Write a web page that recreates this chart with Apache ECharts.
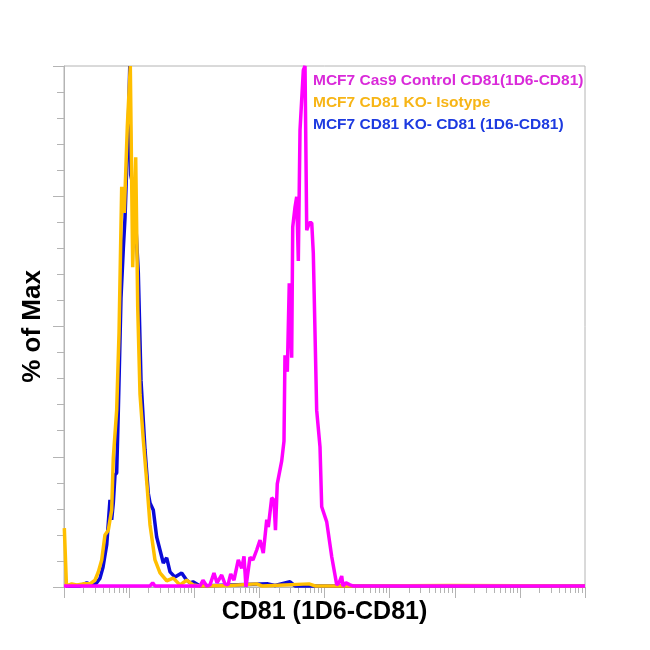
<!DOCTYPE html>
<html>
<head>
<meta charset="utf-8">
<script src="https://cdn.jsdelivr.net/npm/echarts@6/dist/echarts.min.js"></script>
<style>html,body{margin:0;padding:0;background:#fff}#c{width:650px;height:650px}</style>
</head>
<body>
<div id="c"></div>
<script>
// x values are in log10 decades of CD81 fluorescence (0..8), y values are % of Max
const seriesNames = [
  'MCF7 Cas9 Control CD81(1D6-CD81)',
  'MCF7 CD81 KO- Isotype',
  'MCF7 CD81 KO- CD81 (1D6-CD81)'
];
const controlCD81 = [
  [0,0.2],[1.321,0.2],[1.362,0.8],[1.397,0.2],[2.088,0.2],[2.134,1.3],[2.191,0.2],[2.242,0.4],
  [2.303,2.7],[2.349,0.8],[2.421,2.3],[2.472,0.6],[2.518,0.4],[2.560,2.5],[2.610,1.3],[2.676,5.2],
  [2.729,3.6],[2.764,5.9],[2.794,0.0],[2.856,5.7],[2.902,5.2],[2.959,7.1],[3.010,9.0],[3.060,6.5],
  [3.113,12.9],[3.137,11.5],[3.189,17.1],[3.224,16.7],[3.247,10.9],[3.275,19.8],[3.343,24.2],
  [3.378,28.0],[3.393,44.5],[3.429,41.3],[3.459,58.3],[3.496,44.0],[3.512,69.1],[3.547,72.9],
  [3.573,74.9],[3.598,62.6],[3.624,87.7],[3.675,99.2],[3.701,100],[3.727,68.5],[3.767,69.9],
  [3.804,69.9],[3.828,64.1],[3.880,33.9],[3.931,26.9],[3.957,15.4],[4.034,12.5],[4.111,5.8],
  [4.188,0.4],[4.223,0.8],[4.264,2.1],[4.284,0.2],[4.330,0.8],[4.391,0.4],[4.437,0.2],[8,0.2]
];
const koIsotype = [
  [0.005,11.3],[0.038,0.2],[0.118,0.6],[0.195,0.4],[0.296,0.6],[0.399,0.6],[0.476,1.3],[0.527,2.9],
  [0.579,5.2],[0.629,10.0],[0.680,10.9],[0.732,14.8],[0.757,24.8],[0.809,34.0],[0.845,48.8],
  [0.886,76.8],[0.926,71.8],[0.972,88.3],[1.018,100],[1.055,61.4],[1.101,82.5],[1.132,53.7],
  [1.167,37.0],[1.218,28.2],[1.270,20.3],[1.321,11.9],[1.397,5.2],[1.474,2.7],[1.577,1.2],
  [1.678,1.7],[1.781,0.4],[1.884,1.3],[1.981,0.4],[2.088,0.2],[2.549,0.3],[2.959,0.6],[3.04,0.2],
  [3.762,0.6],[3.855,0.2],[4.545,0.2],[5.927,0.3],[8,0.2]
];
const koCD81 = [
  [0.031,0.2],[0.246,0.2],[0.349,0.8],[0.430,0.4],[0.502,0.8],[0.553,1.7],[0.599,3.8],[0.656,8.1],
  [0.706,16.7],[0.732,12.9],[0.757,16.1],[0.783,21.5],[0.809,21.9],[0.834,33.8],[0.875,55.5],
  [0.911,65.0],[0.937,70.9],[0.963,80.6],[0.987,88.3],[1.010,100],[1.024,79.1],[1.075,76.2],
  [1.141,60.3],[1.182,39.7],[1.244,26.3],[1.294,18.0],[1.321,16.1],[1.371,14.8],[1.423,9.6],
  [1.474,7.1],[1.525,4.6],[1.577,5.6],[1.628,2.9],[1.705,1.9],[1.807,2.7],[1.884,1.3],[1.935,0.8],
  [1.981,1.0],[2.088,0.2],[3.132,0.6],[3.240,0.3],[3.332,0.6],[3.470,1.0],[3.547,0.2],[8,0.2]
];
const lineColors = ['#ff00ff', '#ffbf00', '#0a0ad8'];
const textColors = ['#d92ad9', '#f7b516', '#1d3ae0'];
const xMajorTicks = [0,1,2,3,4,5,6,7,8];
const xMinorTicks = [];
xMajorTicks.slice(0, 8).forEach(function (d) {
  for (let k = 2; k <= 9; k++) xMinorTicks.push(d + Math.log10(k));
});
const yMajorTicks = [0,25,50,75,100];
const yMinorTicks = [5,10,15,20,30,35,40,45,55,60,65,70,80,85,90,95];

const axisGrey = '#b4b4b4';
const fontFam = 'Liberation Sans, Arial, sans-serif';
const chart = echarts.init(document.getElementById('c'));
chart.setOption({
  animation: false,
  backgroundColor: '#ffffff',
  grid: { left: 64, right: 65, top: 66, bottom: 63, show: true, borderColor: axisGrey, borderWidth: 1 },
  legend: {
    orient: 'vertical', left: 303, top: 68, icon: 'none', itemWidth: 0, itemHeight: 16, itemGap: 6,
    selectedMode: false,
    textStyle: { fontSize: 15.5, fontWeight: 'bold', fontFamily: fontFam },
    data: seriesNames.map(function (n, i) { return { name: n, textStyle: { color: textColors[i] } }; })
  },
  xAxis: [
    { type: 'value', min: 0, max: 8, position: 'bottom',
      axisLine: { show: true, lineStyle: { color: axisGrey } },
      axisTick: { show: true, customValues: xMajorTicks, length: 11, lineStyle: { color: axisGrey } },
      axisLabel: { show: false }, splitLine: { show: false },
      name: 'CD81 (1D6-CD81)', nameLocation: 'middle', nameGap: 13,
      nameTextStyle: { fontSize: 25, fontWeight: 'bold', color: '#000', fontFamily: fontFam } },
    { type: 'value', min: 0, max: 8, position: 'bottom', gridIndex: 0,
      axisLine: { show: false },
      axisTick: { show: true, customValues: xMinorTicks, length: 6, lineStyle: { color: axisGrey } },
      axisLabel: { show: false }, splitLine: { show: false } }
  ],
  yAxis: [
    { type: 'value', min: 0, max: 100, position: 'left',
      axisLine: { show: true, lineStyle: { color: axisGrey } },
      axisTick: { show: true, customValues: yMajorTicks, length: 11, lineStyle: { color: axisGrey } },
      axisLabel: { show: false }, splitLine: { show: false },
      name: '% of Max', nameLocation: 'middle', nameGap: 18,
      nameTextStyle: { fontSize: 26, fontWeight: 'bold', color: '#000', fontFamily: fontFam } },
    { type: 'value', min: 0, max: 100, position: 'left',
      axisLine: { show: false },
      axisTick: { show: true, customValues: yMinorTicks, length: 7, lineStyle: { color: axisGrey } },
      axisLabel: { show: false }, splitLine: { show: false } }
  ],
  series: [
    { name: seriesNames[2], type: 'line', data: koCD81, showSymbol: false, clip: false,
      lineStyle: { color: lineColors[2], width: 3.5 }, itemStyle: { color: lineColors[2] } },
    { name: seriesNames[1], type: 'line', data: koIsotype, showSymbol: false, clip: false,
      lineStyle: { color: lineColors[1], width: 3.5 }, itemStyle: { color: lineColors[1] } },
    { name: seriesNames[0], type: 'line', data: controlCD81, showSymbol: false, clip: false,
      lineStyle: { color: lineColors[0], width: 3.5 }, itemStyle: { color: lineColors[0] } }
  ]
});
</script>
</body>
</html>
